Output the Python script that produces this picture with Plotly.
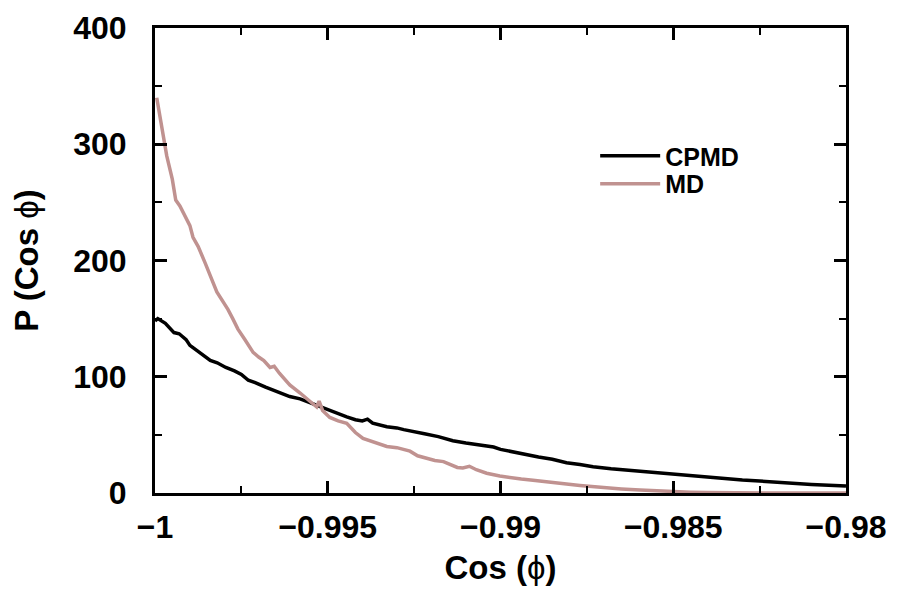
import plotly.graph_objects as go

cpmd_x = [-1.0, -0.99992, -0.9997, -0.99945, -0.9993, -0.9991, -0.99899, -0.9988, -0.9986,
          -0.9984, -0.9982, -0.99795, -0.9977, -0.9975, -0.9973, -0.9971, -0.9968, -0.99645,
          -0.9961, -0.9958, -0.9955, -0.9952, -0.99494, -0.9947, -0.99445, -0.9942, -0.9940,
          -0.99385, -0.9937, -0.99329, -0.9930, -0.9928, -0.9925, -0.9922, -0.9918, -0.99138,
          -0.9910, -0.9906, -0.9902, -0.9900, -0.9896, -0.98925, -0.9889, -0.9885, -0.98809,
          -0.9877, -0.98732, -0.9868, -0.9862, -0.9856, -0.9850, -0.9845, -0.9840, -0.9835,
          -0.9830, -0.9825, -0.9820, -0.9815, -0.9810, -0.9805, -0.9800]
cpmd_y = [148, 150, 146, 138, 137, 132, 127, 123, 119,
          114, 112, 108, 105, 102, 97, 95, 91, 87,
          83, 81, 77.5, 74, 71.4, 68, 65.4, 63, 62,
          63.5, 60, 57, 56, 54.5, 53, 51, 48.5, 45,
          43, 41.5, 39.5, 37.5, 35, 33, 31, 29, 26,
          24.5, 22.6, 20.8, 19.2, 17.6, 16, 14.6, 13.3, 12.2,
          11.2, 10.3, 9.2, 8.3, 7.4, 6.7, 6]

md_x = [-0.99995, -0.9998, -0.99966, -0.9995, -0.9994, -0.99928, -0.9991, -0.99899, -0.9989,
        -0.99875, -0.99855, -0.99845, -0.99836, -0.99821, -0.9981, -0.99789, -0.99775, -0.9976,
        -0.9974, -0.99716, -0.9970, -0.99685, -0.99667, -0.99655, -0.9964, -0.9963, -0.9961,
        -0.9958, -0.99555, -0.9954, -0.99532, -0.99525, -0.99515, -0.99494, -0.9947, -0.99445,
        -0.9942, -0.99398, -0.9937, -0.99345, -0.99329, -0.9930, -0.99262, -0.9924, -0.99214,
        -0.9919, -0.99165, -0.99138, -0.99125, -0.99109, -0.9909, -0.9907, -0.9904, -0.99002,
        -0.9897, -0.9894, -0.98906, -0.9887, -0.9884, -0.98809, -0.9877, -0.98732, -0.9869,
        -0.9865, -0.98596, -0.9855, -0.9850, -0.9845, -0.9840, -0.9835, -0.9830, -0.9820,
        -0.9810, -0.9800]
md_y = [340, 312, 290, 270, 252, 247, 236, 230, 220,
        212, 198, 190, 184, 173, 168, 158, 150, 141,
        132, 121, 117, 114, 108, 109, 103, 100, 93,
        86, 80, 76, 74, 79, 71, 65, 62, 60,
        52, 47, 44, 42, 40, 39, 36, 32, 30,
        28, 27, 24, 22, 21.5, 23, 20, 17, 14.6,
        13, 12, 11, 9.5, 8.5, 7.7, 6.5, 5.4, 4.5,
        3.5, 2.5, 1.8, 1.2, 0.7, 0.4, 0.2, 0.1, 0,
        0, 0]

x_ticks = [-1, -0.995, -0.99, -0.985, -0.98]
x_labels = ["\u22121", "\u22120.995", "\u22120.99", "\u22120.985", "\u22120.98"]
y_ticks = [0, 100, 200, 300, 400]
y_labels = ["0", "100", "200", "300", "400"]

FONT = "Liberation Sans, Arial, sans-serif"

fig = go.Figure()
fig.add_trace(go.Scatter(x=cpmd_x, y=cpmd_y, mode="lines", name="CPMD",
                         line=dict(color="black", width=3.5), legend="legend"))
fig.add_trace(go.Scatter(x=md_x, y=md_y, mode="lines", name="MD",
                         line=dict(color="#c09290", width=3.5), legend="legend2"))

axis_common = dict(
    showline=True, linecolor="black", linewidth=3, mirror="allticks",
    ticks="inside", ticklen=12, tickwidth=3, tickcolor="black",
    showgrid=False, zeroline=False, automargin=False,
    tickfont=dict(family=FONT, size=32, color="black", weight="bold"),
)

fig.update_xaxes(range=[-1, -0.98], tickvals=x_ticks, ticktext=x_labels,
                 minor=dict(dtick=0.0025, ticks="inside", ticklen=7, tickwidth=2, tickcolor="black"),
                 ticklabelstandoff=4,
                 title=dict(text="Cos (<span style='font-weight:normal'>\u03d5</span>)",
                            font=dict(family=FONT, size=33, color="black", weight="bold"),
                            standoff=12),
                 **axis_common)
fig.update_yaxes(range=[0, 400], tickvals=y_ticks, ticktext=y_labels,
                 minor=dict(dtick=50, ticks="inside", ticklen=7, tickwidth=2, tickcolor="black"),
                 ticklabelstandoff=19,
                 title=dict(text="P (Cos <span style='font-weight:normal'>\u03d5</span>)",
                            font=dict(family=FONT, size=33, color="black", weight="bold"),
                            standoff=29),
                 **axis_common)

legend_font = dict(family=FONT, size=25, color="black", weight="bold")
fig.update_layout(
    width=897, height=595,
    margin=dict(l=147, r=59, t=20, b=110),
    plot_bgcolor="white", paper_bgcolor="white",
    showlegend=True,
    legend=dict(x=0.637, y=0.774, xanchor="left", yanchor="top",
                bgcolor="rgba(0,0,0,0)", font=legend_font, itemwidth=60),
    legend2=dict(x=0.637, y=0.714, xanchor="left", yanchor="top",
                 bgcolor="rgba(0,0,0,0)", font=legend_font, itemwidth=60),
)

fig.write_html("out.html")
